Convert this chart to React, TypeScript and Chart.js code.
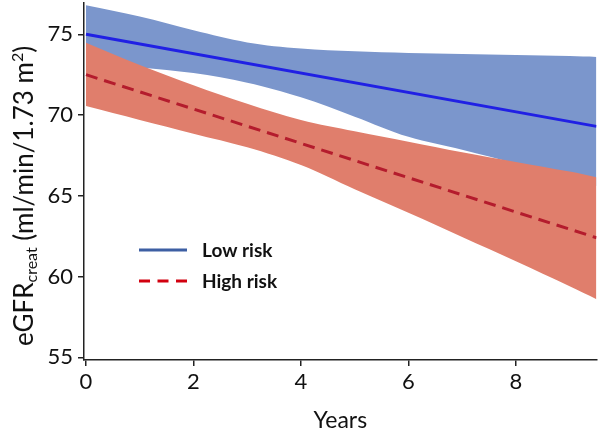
import React, { useEffect, useRef } from "react";
import { Chart, registerables } from "chart.js";

Chart.register(...registerables);

// ---- data ----
const bandYears = [0, 1, 2, 3, 4, 5, 6, 7, 8, 9, 9.5];
const lowRiskUpper = [76.8, 76.1, 75.25, 74.5, 74.12, 73.95, 73.85, 73.78, 73.72, 73.65, 73.6];
const lowRiskLower = [73.2, 72.95, 72.6, 72.0, 71.1, 69.9, 68.65, 67.85, 67.0, 66.1, 65.6];
const highRiskUpper = [74.48, 73.1, 71.85, 70.7, 69.7, 69.0, 68.35, 67.7, 67.1, 66.5, 66.15];
const highRiskLower = [70.56, 69.7, 68.85, 68.0, 66.9, 65.4, 63.95, 62.45, 60.95, 59.4, 58.6];
const lineYears = [0, 9.5];
const lowRiskMean = [75.0, 69.3];
const highRiskMean = [72.5, 62.4];
const xTicks = [0, 2, 4, 6, 8];
const yTicks = [55, 60, 65, 70, 75];
const legendLabels = ["Low risk", "High risk"];

const FONT = "Lato, 'Open Sans', sans-serif";

const pts = (xs: number[], ys: number[]) => xs.map((x, i) => ({ x, y: ys[i] }));

const overlayPlugin = {
  id: "overlay",
  afterDraw(chart: any) {
    const ctx: CanvasRenderingContext2D = chart.ctx;
    const area = chart.chartArea;
    // ---- y axis title with subscript / superscript ----
    const segs = [
      { t: "eGFR", size: 26, shift: 0 },
      { t: "creat", size: 16, shift: 4 },
      { t: " (ml/min/1.73 m", size: 26, shift: 0 },
      { t: "2", size: 16, shift: -10 },
      { t: ")", size: 26, shift: 0 },
    ];
    ctx.save();
    let total = 0;
    const widths = segs.map((s) => {
      ctx.font = `${s.size}px ${FONT}`;
      const w = ctx.measureText(s.t).width;
      total += w;
      return w;
    });
    ctx.translate(area.left - 62, 196);
    ctx.rotate(-Math.PI / 2);
    ctx.fillStyle = "#111";
    ctx.textBaseline = "alphabetic";
    ctx.textAlign = "left";
    let x = -total / 2;
    segs.forEach((s, i) => {
      ctx.font = `${s.size}px ${FONT}`;
      ctx.fillText(s.t, x, 11 + s.shift);
      x += widths[i];
    });
    ctx.restore();

    // ---- legend ----
    ctx.save();
    const lx0 = area.left + 55;
    const lx1 = area.left + 103;
    const tx = area.left + 118;
    const rows = [area.top + 247, area.top + 278];
    ctx.lineWidth = 3;
    ctx.strokeStyle = "#3d5fa3";
    ctx.setLineDash([]);
    ctx.beginPath();
    ctx.moveTo(lx0, rows[0]);
    ctx.lineTo(lx1, rows[0]);
    ctx.stroke();
    ctx.strokeStyle = "#d2000f";
    ctx.setLineDash([11, 7.5]);
    ctx.beginPath();
    ctx.moveTo(lx0, rows[1]);
    ctx.lineTo(lx1, rows[1]);
    ctx.stroke();
    ctx.setLineDash([]);
    ctx.fillStyle = "#111";
    ctx.font = `bold 19px ${FONT}`;
    ctx.textBaseline = "middle";
    ctx.textAlign = "left";
    ctx.fillText(legendLabels[0], tx, rows[0] + 1);
    ctx.fillText(legendLabels[1], tx, rows[1] + 1);
    ctx.restore();
  },
};

export default function App() {
  const ref = useRef<HTMLCanvasElement | null>(null);
  useEffect(() => {
    if (!ref.current) return;
    const bandBase = {
      borderWidth: 0,
      borderColor: "rgba(0,0,0,0)",
      pointRadius: 0,
      tension: 0.35,
    };
    const chart = new Chart(ref.current, {
      type: "line",
      data: {
        datasets: [
          {
            label: legendLabels[0],
            data: pts(lineYears, lowRiskMean),
            borderColor: "rgb(32,32,228)",
            borderWidth: 3,
            pointRadius: 0,
            fill: false,
          },
          {
            label: legendLabels[1],
            data: pts(lineYears, highRiskMean),
            borderColor: "rgb(180,28,45)",
            borderWidth: 3,
            borderDash: [12, 7],
            pointRadius: 0,
            fill: false,
          },
          {
            ...bandBase,
            label: "high upper",
            data: pts(bandYears, highRiskUpper),
            backgroundColor: "rgb(224,126,108)",
            fill: "+1",
          },
          {
            ...bandBase,
            label: "high lower",
            data: pts(bandYears, highRiskLower),
            fill: false,
          },
          {
            ...bandBase,
            label: "low upper",
            data: pts(bandYears, lowRiskUpper),
            backgroundColor: "rgb(123,150,204)",
            fill: "+1",
          },
          {
            ...bandBase,
            label: "low lower",
            data: pts(bandYears, lowRiskLower),
            fill: false,
          },
        ],
      },
      options: {
        responsive: false,
        animation: false,
        devicePixelRatio: 1,
        layout: { padding: { top: 3, right: 3.5, left: 0, bottom: 0 } },
        plugins: {
          legend: { display: false },
          tooltip: { enabled: false },
        },
        scales: {
          x: {
            type: "linear",
            min: -0.037,
            max: 9.5,
            afterBuildTicks: (s: any) => {
              s.ticks = xTicks.map((v) => ({ value: v }));
            },
            afterFit: (s: any) => {
              s.height = 75;
              s.paddingLeft = 0;
              s.paddingRight = 0;
            },
            grid: { drawOnChartArea: false, drawTicks: true, tickLength: 6, color: "#222", lineWidth: 1.5 },
            border: { display: true, color: "#222", width: 1.5 },
            ticks: {
              color: "#111",
              font: { family: FONT, size: 22 },
              padding: 3,
              maxRotation: 0,
              autoSkip: false,
            },
            title: {
              display: true,
              text: "Years",
              color: "#111",
              font: { family: FONT, size: 23 },
              padding: { top: 0, bottom: 1 },
            },
          },
          y: {
            type: "linear",
            min: 54.83,
            max: 76.94,
            afterBuildTicks: (s: any) => {
              s.ticks = yTicks.map((v) => ({ value: v }));
            },
            afterFit: (s: any) => {
              s.width = 84;
              s.paddingTop = 0;
              s.paddingBottom = 0;
            },
            grid: { drawOnChartArea: false, drawTicks: true, tickLength: 6, color: "#222", lineWidth: 1.5 },
            border: { display: true, color: "#222", width: 1.5 },
            ticks: {
              color: "#111",
              font: { family: FONT, size: 22 },
              padding: 5,
              autoSkip: false,
            },
          },
        },
      },
      plugins: [overlayPlugin],
    } as any);
    return () => chart.destroy();
  }, []);
  return (
    <div style={{ position: "fixed", left: 0, top: 0, width: 600, height: 435, background: "#fff" }}>
      <canvas ref={ref} width={600} height={435} style={{ width: 600, height: 435, display: "block" }} />
    </div>
  );
}
